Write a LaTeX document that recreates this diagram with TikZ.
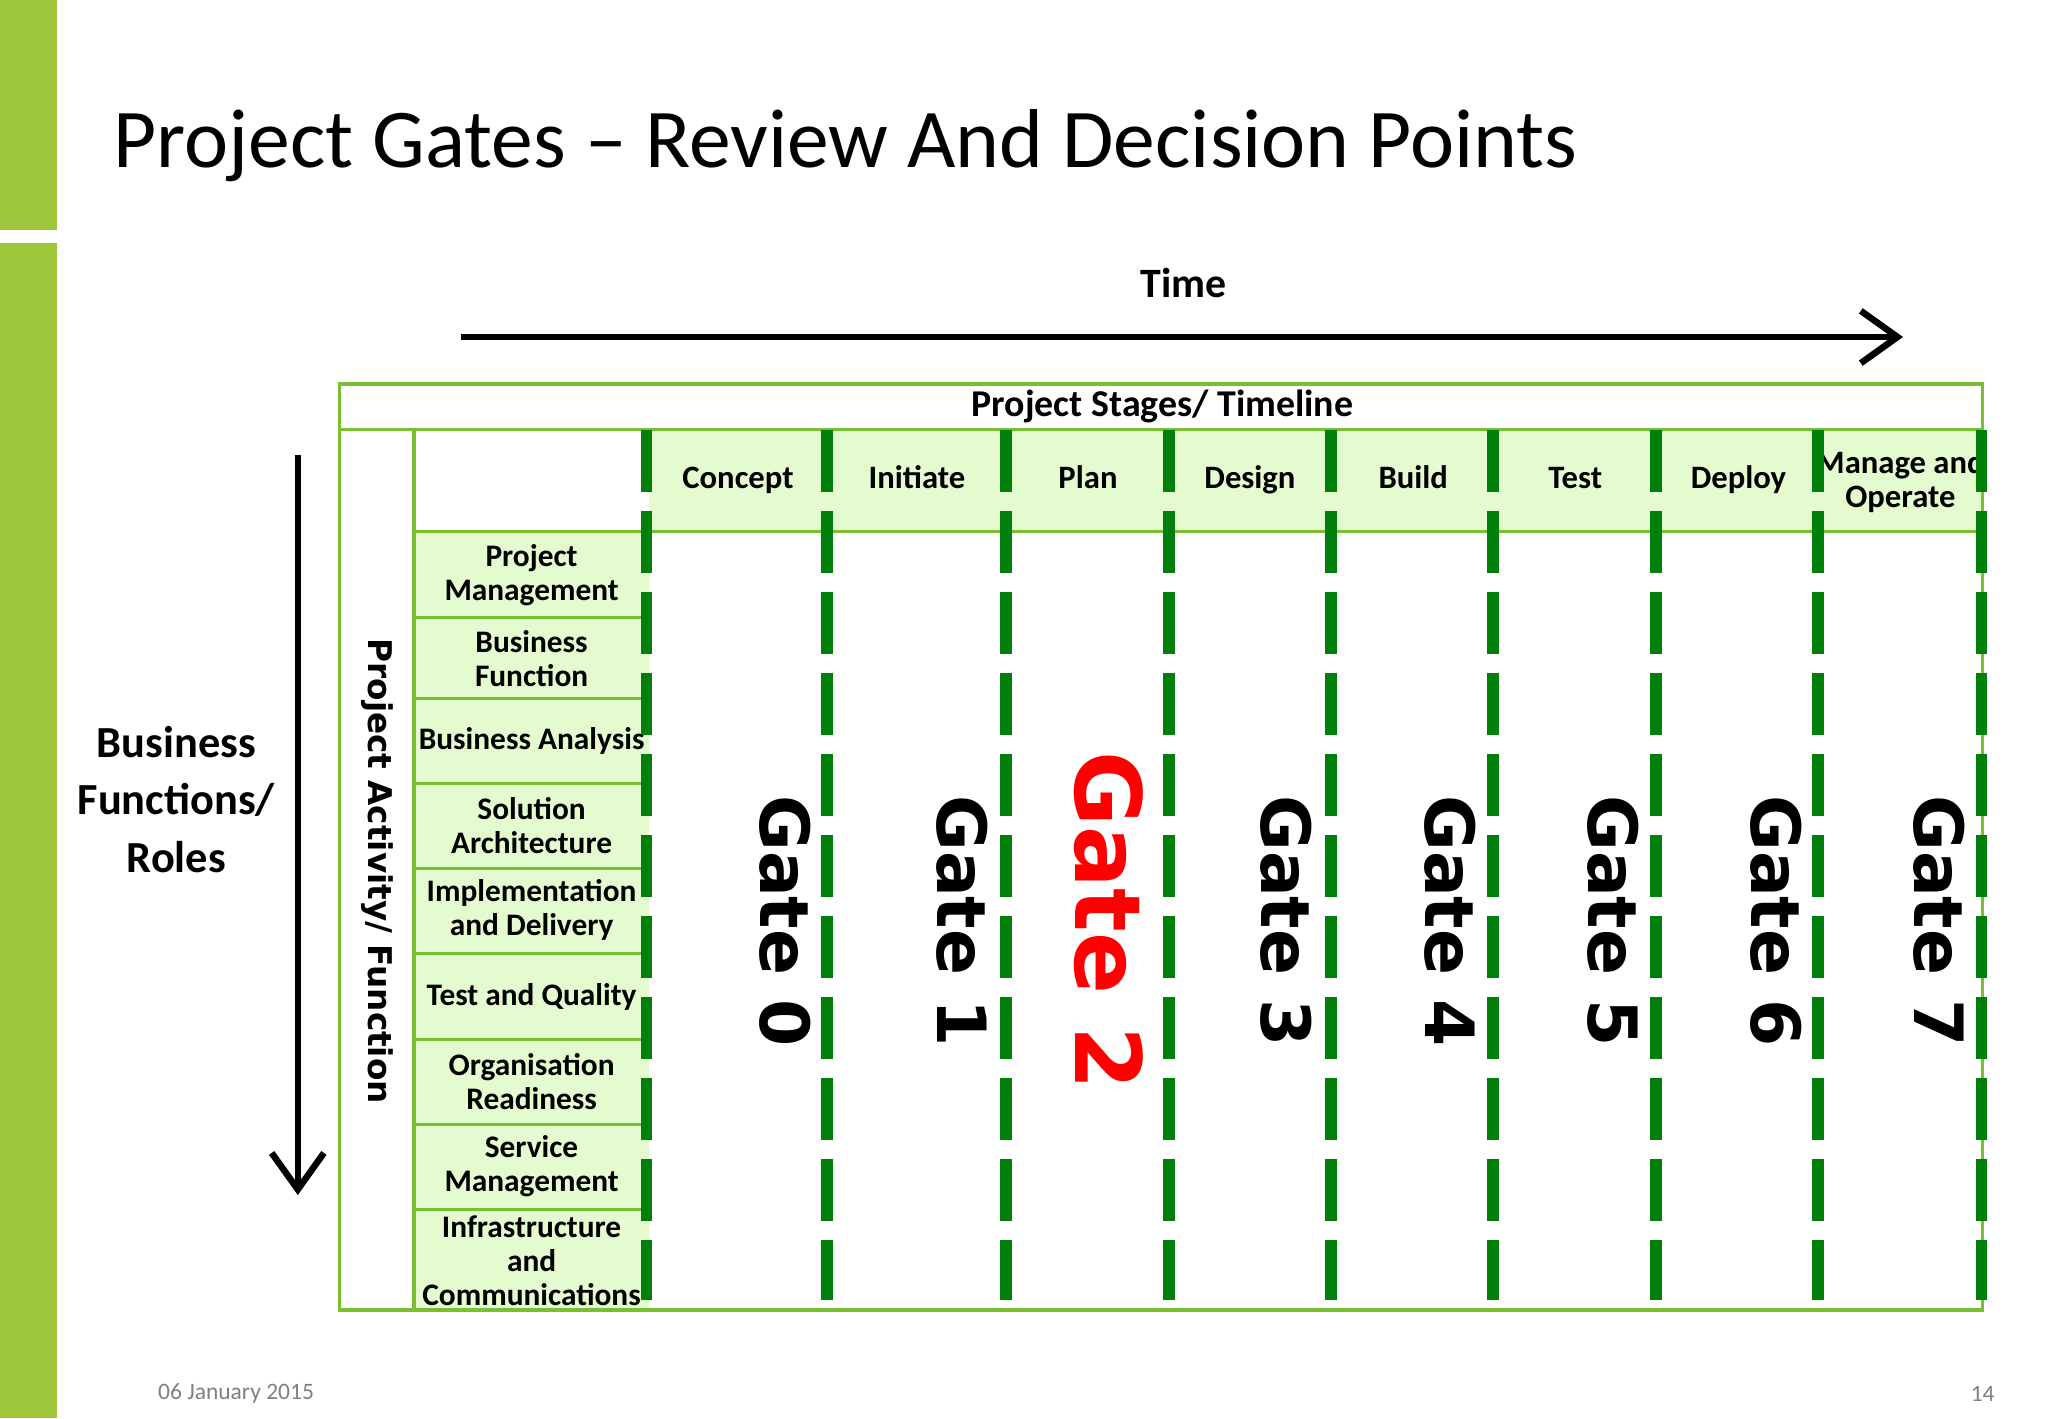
\documentclass[tikz,border=0pt]{standalone}
\usepackage{fontspec}
\setmainfont{Carlito}
\newfontfamily\dvs{DejaVu Sans}
\usetikzlibrary{arrows.meta}
\definecolor{barg}{HTML}{9DC63A}
\definecolor{bord}{HTML}{78C030}
\definecolor{cellg}{HTML}{E4FBCF}
\definecolor{gateg}{HTML}{00800A}
\begin{document}
\begin{tikzpicture}[x=0.5pt,y=-0.5pt,
  stage/.style={font=\bfseries\fontsize{12.5}{13}\selectfont,align=center,text height=1.5ex,text depth=0.4ex},
  rowlab/.style={font=\bfseries\fontsize{12}{13}\selectfont,align=center},
  gatelab/.style={font=\dvs\bfseries\fontsize{26}{26}\selectfont,rotate=-90},
  gateline/.style={gateg,line width=4.5pt,dash pattern=on 24pt off 7pt}]
\useasboundingbox (0,0) rectangle (1568,1086);
\fill[barg] (0,0) rectangle (44,176);
\fill[barg] (0,186) rectangle (44,1086);
\node[anchor=base west,font=\fontsize{32}{36}\selectfont] (title) at (80,128) {Project Gates -- Review And Decision Points};
\node[font=\bfseries\fontsize{16}{18}\selectfont] (time) at (906,217) {Time};
\coordinate (ta) at (353,258); \coordinate (tb) at (1457,258);
\draw[line width=2.5pt,-{Straight Barb[length=14pt,width=20pt,line width=2.5pt]}] (ta) -- (tb);
\coordinate (da) at (228,348); \coordinate (db) at (228,915);
\draw[line width=2.5pt,-{Straight Barb[length=14pt,width=20pt,line width=2.5pt]}] (da) -- (db);
\node[font=\bfseries\fontsize{17}{22}\selectfont,align=center] (bfr) at (135,612) {Business\\Functions/\\Roles};
\fill[cellg] (497,329) rectangle (1518,407);
\fill[cellg] (317,407) rectangle (497,1003);
\draw[bord,line width=1.2pt] (260,294) rectangle (1518,1003);
\draw[bord,line width=1.2pt] (260,329) -- (1518,329);
\draw[bord,line width=1.2pt] (317,329) -- (317,1003);
\draw[bord,line width=1.2pt] (317,407) -- (1518,407);
\foreach \y in {473,535,600,665,730,796,861,926} \draw[bord,line width=1.2pt] (317,\y) -- (497,\y);
\node[font=\bfseries\fontsize{14.5}{16}\selectfont] (pst) at (890,311) {Project Stages/ Timeline};
\node[font=\dvs\bfseries\fontsize{12.5}{14}\selectfont,rotate=-90] (paf) at (289,667) {Project Activity/ Function};
\node[stage] (s0) at (565,369) {Concept};
\node[stage] (s1) at (702,369) {Initiate};
\node[stage] (s2) at (833,369) {Plan};
\node[stage] (s3) at (957,369) {Design};
\node[stage] (s4) at (1082,369) {Build};
\node[stage] (s5) at (1206,369) {Test};
\node[stage] (s6) at (1331,369) {Deploy};
\node[stage,text height=,text depth=] (s7) at (1455,369) {Manage and\\Operate};
\node[rowlab] (r1) at (407,440) {Project\\Management};
\node[rowlab] (r2) at (407,504) {Business\\Function};
\node[rowlab] (r3) at (407,567) {Business Analysis};
\node[rowlab] (r4) at (407,632) {Solution\\Architecture};
\node[rowlab] (r5) at (407,697) {Implementation\\and Delivery};
\node[rowlab] (r6) at (407,763) {Test and Quality};
\node[rowlab] (r7) at (407,828) {Organisation\\Readiness};
\node[rowlab] (r8) at (407,893) {Service\\Management};
\node[rowlab] (r9) at (407,965) {Infrastructure\\and\\Communications};
\foreach \x in {495,633,770,895,1019,1143,1268,1392,1517}
  \draw[gateline] (\x,329) -- (\x,995);
\node[gatelab] (g0) at (601,705) {Gate 0};
\node[gatelab] (g1) at (737,705) {Gate 1};
\node[gatelab,red,font=\dvs\bfseries\fontsize{35}{35}\selectfont] (g2) at (849,705) {Gate 2};
\node[gatelab] (g3) at (985,705) {Gate 3};
\node[gatelab] (g4) at (1110,705) {Gate 4};
\node[gatelab] (g5) at (1235,705) {Gate 5};
\node[gatelab] (g6) at (1360,705) {Gate 6};
\node[gatelab] (g7) at (1485,705) {Gate 7};
\node[anchor=west,gray,font=\fontsize{9}{10}\selectfont] (date) at (114,1067) {06 January 2015};
\node[gray,font=\fontsize{9}{10}\selectfont] (pg) at (1518,1067) {14};
\end{tikzpicture}
\end{document}
